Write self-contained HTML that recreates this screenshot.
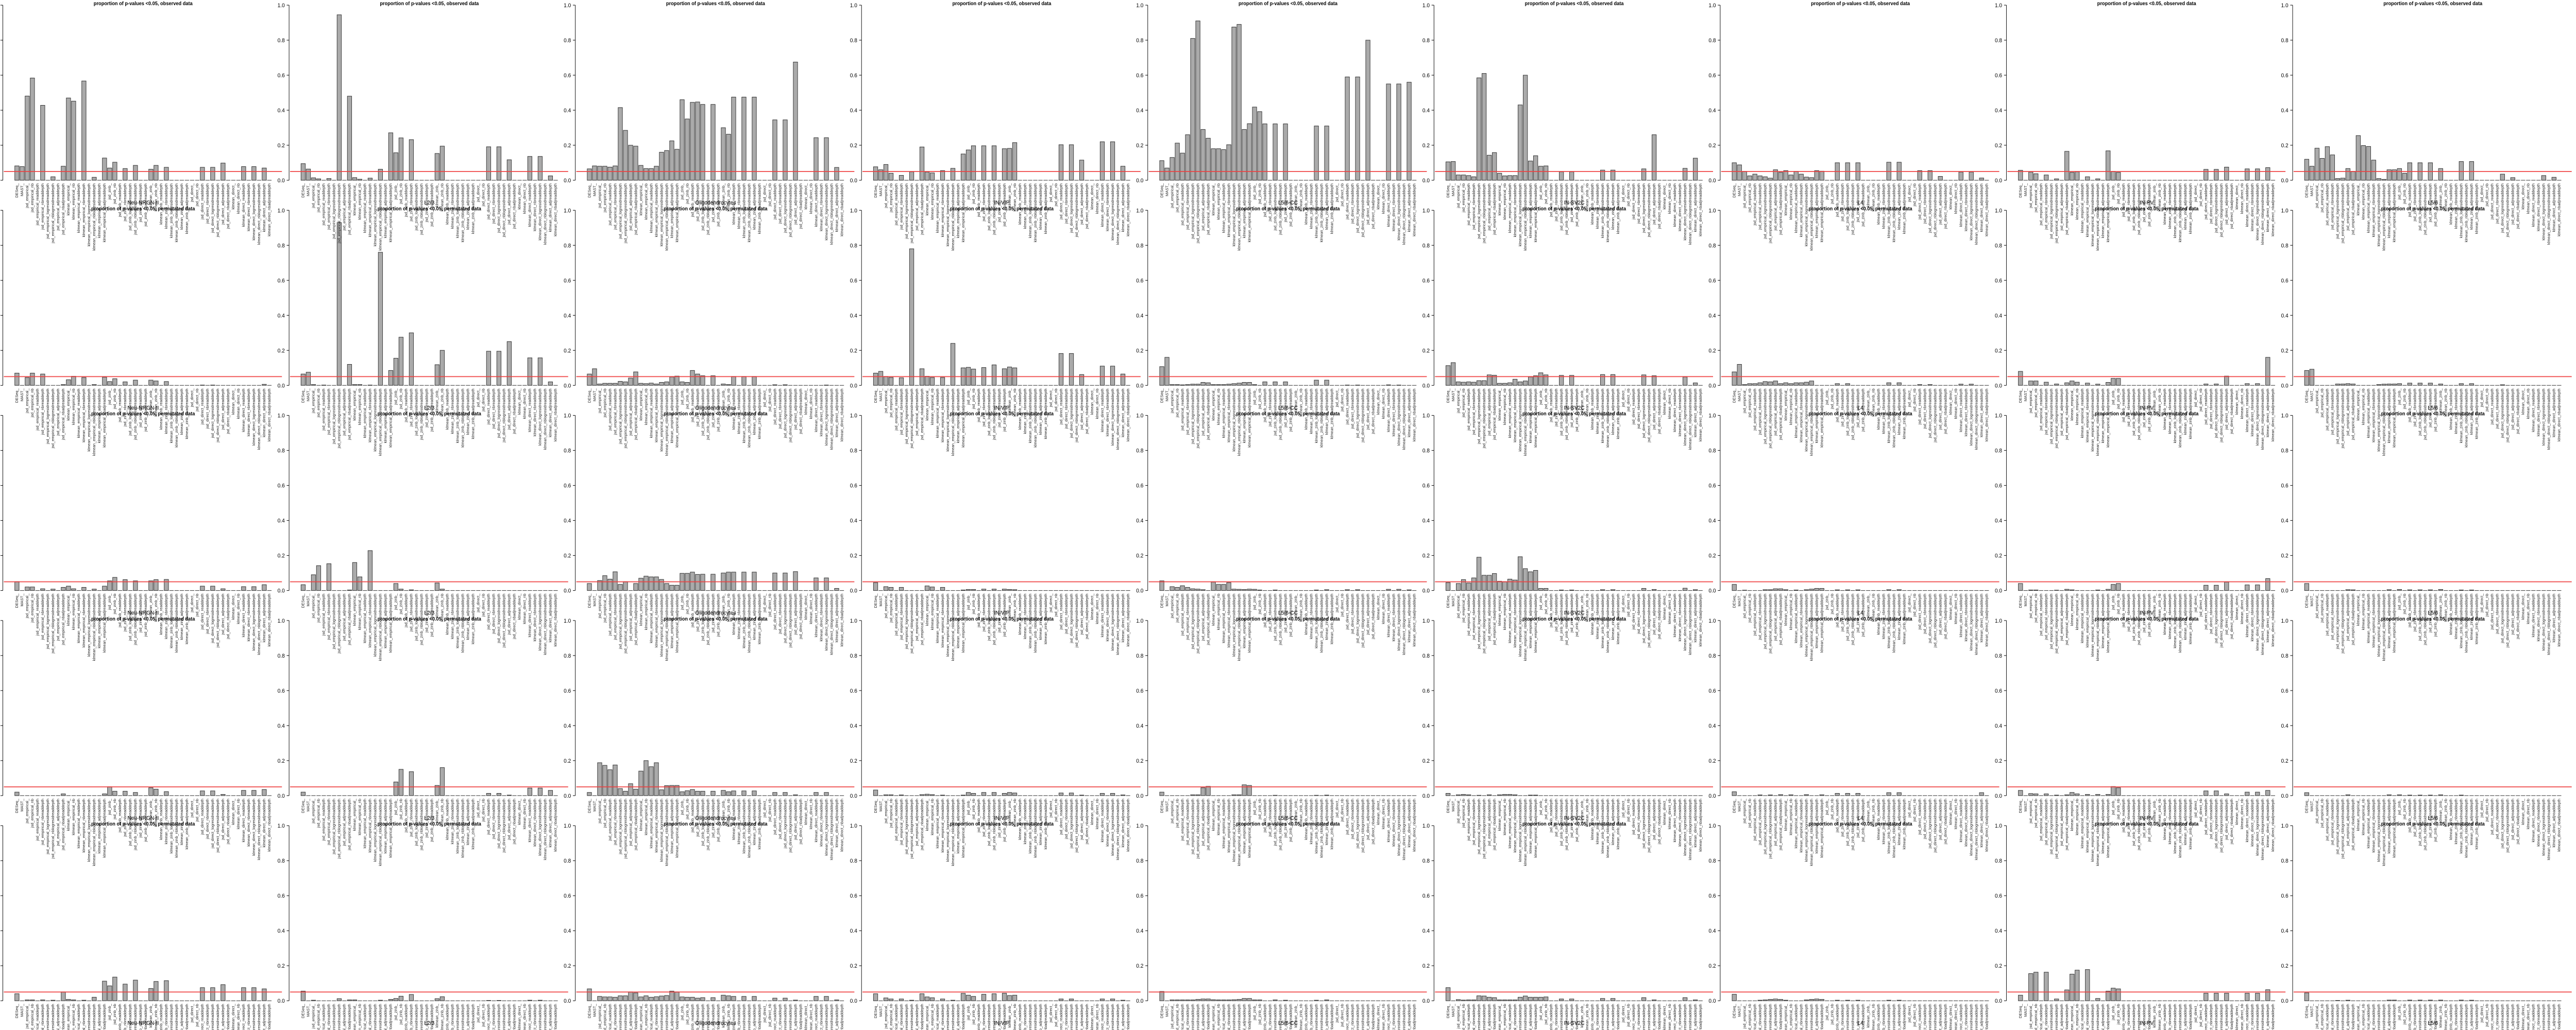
<!DOCTYPE html>
<html><head><meta charset="utf-8">
<style>
html,body{margin:0;padding:0;background:#fff;width:100%;height:100%;overflow:hidden;}
svg{display:block;overflow:hidden;position:fixed;left:0;top:0;width:100vw;height:100vh;}
text{font-family:"Liberation Sans",sans-serif;}
</style></head>
<body>
<svg id="fig" xmlns="http://www.w3.org/2000/svg" viewBox="0 0 5400 2000" preserveAspectRatio="none"></svg>
<script>
const cellTypes = ["Neu-NRGN-II","L2/3","Oligodendrocytes","IN-VIP","L5/6-CC","IN-SV2C","L4","IN-PV","L5/6"];
const rowTitles = ["proportion of p-values <0.05, observed data","proportion of p-values <0.05, permutated data","proportion of p-values <0.05, permutated data","proportion of p-values <0.05, permutated data","proportion of p-values <0.05, permutated data"];
const methods = ["DESeq_","MAST_",
"jsd_empirical_","jsd_empirical_nb","jsd_empirical_readdepth","jsd_empirical_nbreaddepth","jsd_empirical_logresidreaddepth","jsd_empirical_nblogresidreaddepth","jsd_empirical_adjreaddepth","jsd_empirical_nbadjreaddepth",
"klmean_empirical_","klmean_empirical_nb","klmean_empirical_readdepth","klmean_empirical_nbreaddepth","klmean_empirical_logresidreaddepth","klmean_empirical_nblogresidreaddepth","klmean_empirical_adjreaddepth","klmean_empirical_nbadjreaddepth",
"jsd_zinb_","jsd_zinb_nb","jsd_zinb_readdepth","jsd_zinb_nbreaddepth","jsd_zinb_logresidreaddepth","jsd_zinb_nblogresidreaddepth","jsd_zinb_adjreaddepth","jsd_zinb_nbadjreaddepth",
"klmean_zinb_","klmean_zinb_nb","klmean_zinb_readdepth","klmean_zinb_nbreaddepth","klmean_zinb_logresidreaddepth","klmean_zinb_nblogresidreaddepth","klmean_zinb_adjreaddepth","klmean_zinb_nbadjreaddepth",
"jsd_direct_","jsd_direct_nb","jsd_direct_readdepth","jsd_direct_nbreaddepth","jsd_direct_logresidreaddepth","jsd_direct_nblogresidreaddepth","jsd_direct_adjreaddepth","jsd_direct_nbadjreaddepth",
"klmean_direct_","klmean_direct_nb","klmean_direct_readdepth","klmean_direct_nbreaddepth","klmean_direct_logresidreaddepth","klmean_direct_nblogresidreaddepth","klmean_direct_adjreaddepth","klmean_direct_nbadjreaddepth"];
const yTicks = [0,0.2,0.4,0.6,0.8,1.0];
const yTickLabels = ["0.0","0.2","0.4","0.6","0.8","1.0"];
const threshold = 0.05;

// Row 1: observed
const r1c1=[.082,.078,.481,.584,0,.428,0,.02,0,.08, .47,.452,0,.567,0,.017,0,.127,.07,.103, 0,.067,0,.085,0,0,.063,.085,0,.074, 0,0,0,0,0,0,.074,0,.074,0, .098,0,0,0,.078,0,.078,0,.07,0];
const r1c2=[.095,.064,.014,.008,0,.01,0,.945,0,.48, .015,.006,0,.012,0,.063,0,.271,.157,.242, 0,.232,0,0,0,0,.153,.195,0,0, 0,0,0,0,0,0,.191,0,.191,0, .117,0,0,0,.136,0,.136,0,.025,0];
const r1c3=[.065,.082,.08,.08,.075,.082,.415,.285,.2,.195, .085,.067,.067,.08,.16,.17,.225,.177,.46,.35, .445,.447,.433,0,.433,0,.3,.263,.475,0, .475,0,.475,0,0,0,.345,0,.345,0, .675,0,0,0,.243,0,.243,0,.073,0];
const r1c4=[.077,.06,.09,.04,0,.028,0,.048,0,.19, .047,.042,0,.055,0,.068,0,.15,.173,.197, 0,.197,0,.197,0,.18,.182,.215,0,0, 0,0,0,0,0,0,.203,0,.203,0, .115,0,0,0,.22,0,.22,0,.08,0];
const r1c5=[.112,.07,.13,.212,.155,.26,.81,.91,.29,.24, .18,.18,.175,.203,.875,.89,.29,.323,.418,.392, .322,0,.322,0,.322,0,0,0,0,0, .31,0,.31,0,0,0,.59,0,.59,0, .8,0,0,0,.55,0,.55,0,.56,0];
const r1c6=[.105,.107,.03,.03,.027,.02,.585,.61,.143,.158, .04,.025,.027,.027,.43,.6,.11,.14,.08,.082, 0,0,.048,0,.048,0,0,0,0,0, .058,0,.058,0,0,0,0,0,.065,0, .26,0,0,0,0,0,.068,0,.126,0];
const r1c7=[.1,.088,.05,.025,.035,.025,.02,.012,.06,.045, .055,.03,.05,.035,.018,.015,.055,.052,0,0, .1,0,.1,0,.1,0,0,0,0,0, .103,0,.103,0,0,0,.055,0,.055,0, .022,0,0,0,.047,0,.047,0,.013,0];
const r1c8=[.057,0,.047,.037,0,.03,0,.008,0,.165, .045,.048,0,.02,0,.008,0,.168,.05,.045, 0,0,0,0,0,0,0,0,0,0, 0,0,0,0,0,0,.062,0,.062,0, .075,0,0,0,.065,0,.065,0,.072,0];
const r1c9=[.12,.08,.183,.125,.192,.145,.01,.012,.067,.05, .255,.198,.193,.115,.01,.005,.06,.06,.067,.04, .1,0,.1,0,.1,0,.067,0,0,0, .107,0,.107,0,0,0,0,0,.035,0, .015,0,0,0,0,0,.027,0,.017,0];
// Row 2: permutated
const r2c1=[.07,0,.045,.07,0,.065,0,0,0,.005, .032,.052,0,.045,0,.005,0,.047,.022,.038, 0,.02,0,.03,0,0,.03,.025,0,.022, 0,0,0,0,0,0,.002,0,.002,0, 0,0,0,0,0,0,0,0,.006,0];
const r2c2=[.065,.075,.005,0,.002,0,0,.93,0,.12, .005,.005,0,.002,0,.76,0,.085,.155,.275, 0,.3,0,0,0,0,.118,.2,0,0, 0,0,0,0,0,0,.195,0,.195,0, .25,0,0,0,.157,0,.157,0,.02,0];
const r2c3=[.065,.095,.008,.012,.012,.012,.023,.02,.042,.077, .012,.01,.013,.008,.017,.02,.048,.053,.02,.017, .085,.065,.055,0,.055,0,.008,.005,.05,0, .05,0,.05,0,0,0,.004,0,.004,0, 0,0,0,0,0,0,.002,0,0,0];
const r2c4=[.07,.08,.05,.045,0,.043,0,.78,0,.095, .052,.045,0,.045,0,.24,0,.1,.103,.093, 0,.102,0,.117,0,.095,.105,.1,0,0, 0,0,0,0,0,0,.182,0,.182,0, .062,0,0,0,.11,0,.11,0,.065,0];
const r2c5=[.107,.16,.005,.005,.003,.005,.007,.007,.017,.015, .005,.005,.005,.007,.01,.013,.017,.017,.005,0, .02,0,.02,0,.02,0,0,0,0,0, .03,0,.03,0,0,0,.002,0,.002,0, 0,0,0,0,.003,0,.002,0,0,0];
const r2c6=[.113,.13,.02,.018,.02,.018,.027,.027,.06,.058, .012,.012,.015,.035,.02,.025,.048,.055,.072,.06, 0,0,.057,0,.057,0,0,0,0,0, .062,0,.062,0,0,0,0,0,.06,0, .055,0,0,0,0,0,.048,0,.014,0];
const r2c7=[.077,.12,.005,.01,.01,.015,.022,.02,.025,.01, .015,.01,.015,.015,.018,.025,0,0,0,0, .01,0,.01,0,0,0,0,0,0,0, .015,0,.015,0,0,0,.005,0,.005,0, 0,0,0,0,.007,0,.007,0,0,0];
const r2c8=[.08,0,.025,.025,0,.018,0,.008,0,.015, .025,.018,0,.013,0,.007,0,.017,.04,.04, 0,0,0,0,0,0,0,0,0,0, 0,0,0,0,0,0,.008,0,.008,0, .053,0,0,0,.01,0,.01,0,.16,0];
const r2c9=[.085,.092,0,0,0,0,.008,.008,.01,.008, 0,0,0,0,.005,.007,.008,.008,.01,0, .013,0,.013,0,.013,0,.008,0,0,0, .01,0,.01,0,0,0,0,0,.004,0, 0,0,0,0,0,0,0,0,0,0];
// Row 3
const r3c1=[.05,0,.02,.02,0,.01,0,.008,0,.018, .025,.01,0,.018,0,.008,0,.025,.055,.075, 0,.062,0,.055,0,0,.055,.062,0,.063, 0,0,0,0,0,0,.025,0,.025,0, .01,0,0,0,.022,0,.022,0,.033,0];
const r3c2=[.033,0,.09,.142,0,.153,0,0,0,.003, .16,.078,0,.228,0,0,0,0,.04,.008, 0,.004,0,0,0,0,.043,.008,0,0, 0,0,0,0,0,0,0,0,0,0, 0,0,0,0,0,0,0,0,0,0];
const r3c3=[.04,0,.057,.085,.065,.107,.035,.05,0,.04, .07,.082,.078,.078,.063,.04,.03,.03,.098,.098, .105,.092,.093,0,.093,0,.1,.105,.105,0, .105,0,.105,0,0,0,.1,0,.1,0, .108,0,0,0,.072,0,.072,0,.012,0];
const r3c4=[.045,0,.022,.018,0,.018,0,0,0,0, .026,.02,0,.018,0,0,0,.003,.006,.006, 0,.008,0,.008,0,.008,.006,.005,0,0, 0,0,0,0,0,0,0,0,0,0, 0,0,0,0,0,0,0,0,0,0];
const r3c5=[.055,0,.022,.018,.027,.018,.01,.008,.005,0, .048,.035,.035,.045,.008,.007,.006,.008,.007,.003, 0,0,.003,0,0,0,0,0,0,0, .003,0,.005,0,0,0,.005,0,.005,0, 0,0,0,0,.007,0,.007,0,.004,0];
const r3c6=[.045,0,.04,.062,.043,.072,.19,.087,.087,.097, .053,.05,.065,.06,.193,.125,.107,.115,.012,.012, 0,0,.003,0,.003,0,0,0,0,0, .005,0,.005,0,0,0,0,0,.012,0, .006,0,0,0,0,0,.013,0,.005,0];
const r3c7=[.035,0,.002,0,0,0,.005,.005,.01,.01, .005,0,.003,0,.005,.008,.012,.012,0,0, .004,0,.004,0,.004,0,0,0,0,0, .005,0,.005,0,0,0,0,0,0,0, 0,0,0,0,0,0,0,0,0,0];
const r3c8=[.04,0,.003,.003,0,0,0,.002,0,.007, .004,0,0,0,0,.003,0,.007,.035,.04, 0,0,0,0,0,0,0,0,0,0, 0,0,0,0,0,0,.03,0,.03,0, .048,0,0,0,.032,0,.032,0,.068,0];
const r3c9=[.04,0,0,0,0,0,0,0,.005,.004, 0,0,0,0,0,0,.005,0,.006,0, .004,0,.004,0,.004,0,.006,0,0,0, .003,0,.003,0,0,0,0,0,0,0, 0,0,0,0,0,0,0,0,0,0];
// Row 4
const r4c1=[.02,0,0,0,0,0,0,0,0,.01, 0,0,0,0,0,0,0,.01,.05,.025, 0,.025,0,.018,0,0,.045,.037,0,.023, 0,0,0,0,0,0,.027,0,.027,0, .007,0,0,0,.03,0,.03,0,.035,0];
const r4c2=[.02,0,0,0,0,0,0,0,0,0, 0,0,0,0,0,0,0,0,.078,.15, 0,.137,0,0,0,0,.058,.16,0,0, 0,0,0,0,0,0,.013,0,.013,0, .003,0,0,0,.043,0,.043,0,.03,0];
const r4c3=[.018,0,.188,.173,.148,.175,.04,.025,.068,.037, .14,.2,.165,.188,.033,.057,.058,.058,.022,.028, .035,.025,.025,0,.025,0,.03,.022,.027,0, .027,0,.027,0,0,0,.018,0,.018,0, .005,0,0,0,.018,0,.018,0,0,0];
const r4c4=[.032,0,.005,.005,0,.004,0,0,0,.006, .008,.006,0,.003,0,0,0,.003,.018,.013, 0,.018,0,.018,0,.013,.018,.015,0,0, 0,0,0,0,0,0,.015,0,.015,0, .003,0,0,0,.013,0,.013,0,.004,0];
const r4c5=[.02,0,0,0,0,0,.005,.005,.045,.053, 0,0,0,0,.005,.005,.062,.058,0,0, 0,0,.002,0,0,0,0,0,0,0, .002,0,.003,0,0,0,0,0,0,0, 0,0,0,0,0,0,0,0,0,0];
const r4c6=[.013,0,.005,.007,.005,0,.002,0,.005,0, .005,.007,.007,.005,0,0,.003,.003,0,0, 0,0,0,0,0,0,0,0,0,0, 0,0,0,0,0,0,0,0,0,0, 0,0,0,0,0,0,0,0,0,0];
const r4c7=[.022,0,0,0,0,.004,0,.004,0,.006, 0,.005,0,0,.006,0,0,.005,0,0, .013,0,.013,0,.013,0,0,0,0,0, .017,0,.017,0,0,0,0,0,0,0, 0,0,0,0,0,0,0,0,.017,0];
const r4c8=[.03,0,.012,.01,0,.01,0,.003,0,.005, .018,.01,0,.007,0,.007,0,.007,.052,.045, 0,0,0,0,0,0,0,0,0,0, 0,0,0,0,0,0,.027,0,.027,0, .01,0,0,0,.02,0,.02,0,.03,0];
const r4c9=[.017,0,0,0,0,0,0,0,.005,0, 0,0,0,0,0,0,.005,0,.005,0, .003,0,.003,0,.003,0,.005,0,0,0, .003,0,0,0,0,0,0,0,0,0, 0,0,0,0,0,0,0,0,0,0];
// Row 5
const r5c1=[.04,0,.005,.005,0,.005,0,.003,0,.05, .008,.005,0,.003,0,.02,0,.112,.085,.135, 0,.095,0,.118,0,0,.07,.11,0,.115, 0,0,0,0,0,0,.075,0,.075,0, .092,0,0,0,.075,0,.075,0,.068,0];
const r5c2=[.055,0,.003,0,0,0,0,.012,0,.005, .005,0,0,0,0,.003,0,.008,.013,.026, 0,.036,0,0,0,0,.012,.023,0,0, 0,0,0,0,0,0,.002,0,.002,0, 0,0,0,0,.003,0,.003,0,0,0];
const r5c3=[.068,0,.025,.022,.022,.02,.028,.028,.05,.045, .022,.028,.02,.023,.027,.03,.055,.05,.022,.02, .02,.015,.018,0,.018,0,.032,.028,.025,0, .025,0,.025,0,0,0,.015,0,.015,0, .004,0,0,0,.025,0,.025,0,.005,0];
const r5c4=[.04,0,.016,.01,0,.01,0,.003,0,.04, .022,.017,0,.01,0,.003,0,.042,.032,.025, 0,.037,0,.04,0,.043,.03,.032,0,0, 0,0,0,0,0,0,.01,0,.01,0, 0,0,0,0,.01,0,.01,0,.003,0];
const r5c5=[.053,0,.005,.005,.005,.005,.005,.008,.01,.01, .006,.005,.005,.005,.006,.008,.013,.013,.005,.005, 0,0,.005,0,.003,0,0,0,0,0, .003,0,.005,0,0,0,0,0,0,0, 0,0,0,0,0,0,0,0,0,0];
const r5c6=[.075,0,.007,.004,.005,.005,.028,.027,.02,.018, .005,.005,.005,.005,.02,.027,.02,.02,.02,.022, 0,0,.01,0,.01,0,0,0,0,0, .013,0,.013,0,0,0,0,0,.018,0, .005,0,0,0,0,0,.018,0,.005,0];
const r5c7=[.037,0,0,0,0,.003,.005,.008,.01,.008, .003,0,0,0,.005,.008,.01,.008,0,0, .003,0,.003,0,.003,0,0,0,0,0, .003,0,.003,0,0,0,0,0,0,0, 0,0,0,0,0,0,0,0,0,0];
const r5c8=[.032,0,.155,.163,0,.163,0,.01,0,.062, .152,.175,0,.178,0,.013,0,.055,.072,.068, 0,0,0,0,0,0,0,0,0,0, 0,0,0,0,0,0,.043,0,.043,0, .043,0,0,0,.043,0,.043,0,.063,0];
const r5c9=[.045,0,0,0,0,0,.002,0,.003,0, 0,0,0,0,0,0,.004,.004,0,0, .004,0,.004,0,.004,0,.004,0,0,0, .004,0,.003,0,0,0,0,0,0,0, 0,0,0,0,0,0,0,0,0,0];

const grid = [
 [r1c1,r1c2,r1c3,r1c4,r1c5,r1c6,r1c7,r1c8,r1c9],
 [r2c1,r2c2,r2c3,r2c4,r2c5,r2c6,r2c7,r2c8,r2c9],
 [r3c1,r3c2,r3c3,r3c4,r3c5,r3c6,r3c7,r3c8,r3c9],
 [r4c1,r4c2,r4c3,r4c4,r4c5,r4c6,r4c7,r4c8,r4c9],
 [r5c1,r5c2,r5c3,r5c4,r5c5,r5c6,r5c7,r5c8,r5c9]
];

const NS = "http://www.w3.org/2000/svg";
const svg = document.getElementById("fig");
function mk(tag, attrs, parent){
  const e = document.createElementNS(NS, tag);
  for (const k in attrs) e.setAttribute(k, attrs[k]);
  (parent||svg).appendChild(e);
  return e;
}
const COLW = 600, ROWH = 398.3, PTOP = 10, PBOT = 350;
const BAR0 = 31, STEP = 10.8, BARW = 9;

const axesLayer = mk("g", {});


const barLayer = mk("g", {});


const lineLayer = mk("g", {});


const textLayer = mk("g", {});



for (let r = 0; r < grid.length; r++) {
  const y0 = r * ROWH;
  const yScale = v => y0 + PBOT - v * (PBOT - PTOP);
  for (let c = 0; c < grid[r].length; c++) {
    const x0 = c * COLW;
    const vals = grid[r][c];
    const xAxis = x0 + 6;
    const xBar = i => x0 + BAR0 + i * STEP;

    const panel = mk("g", {}, barLayer);
    
    

    const ax = mk("line", {x1:xAxis, x2:xAxis, y1:yScale(1), y2:yScale(0), stroke:"#000", "stroke-width":1}, axesLayer);
    
    
    yTicks.forEach((t, k) => {
      const tk = mk("line", {x1:xAxis-5, x2:xAxis, y1:yScale(t), y2:yScale(t), stroke:"#000", "stroke-width":1}, axesLayer);
      
      
      const tl = mk("text", {x:xAxis-9, y:yScale(t)+4, "text-anchor":"end", "font-size":11, fill:"#000"}, textLayer);
      
      
      tl.textContent = yTickLabels[k];
    });

    vals.forEach((v, i) => {
      const x = xBar(i);
      const top = yScale(v), base = yScale(0);
      const b = mk("path", {d:`M${x},${base}V${top}H${x+BARW}V${base}Z`, fill:"#aaaaaa", stroke:"#333", "stroke-width":1}, panel);
      
      
    });

    const tl = mk("line", {x1:x0+8, x2:x0+591, y1:yScale(threshold), y2:yScale(threshold), stroke:"#ef4040", "stroke-width":2, "stroke-opacity":0.85}, lineLayer);
    
    

    methods.forEach((m, i) => {
      const cx = xBar(i) + BARW/2 + 2.5;
      const yy = y0 + 356;
      const t = mk("text", {x:cx, y:yy, transform:`rotate(-90 ${cx} ${yy})`, "text-anchor":"end", "font-size":7.5, fill:"#222"}, textLayer);
      
      
      t.textContent = m;
    });

    const tt = mk("text", {x:x0+300, y:y0+10, "text-anchor":"middle", "font-size":10, "font-weight":"bold", fill:"#000"}, textLayer);
    
    
    tt.textContent = rowTitles[r];

    const xt = mk("text", {x:x0+300, y:y0+397, "text-anchor":"middle", "font-size":11, fill:"#000"}, textLayer);
    
    
    xt.textContent = cellTypes[c];
  }
}
</script>
</body></html>
